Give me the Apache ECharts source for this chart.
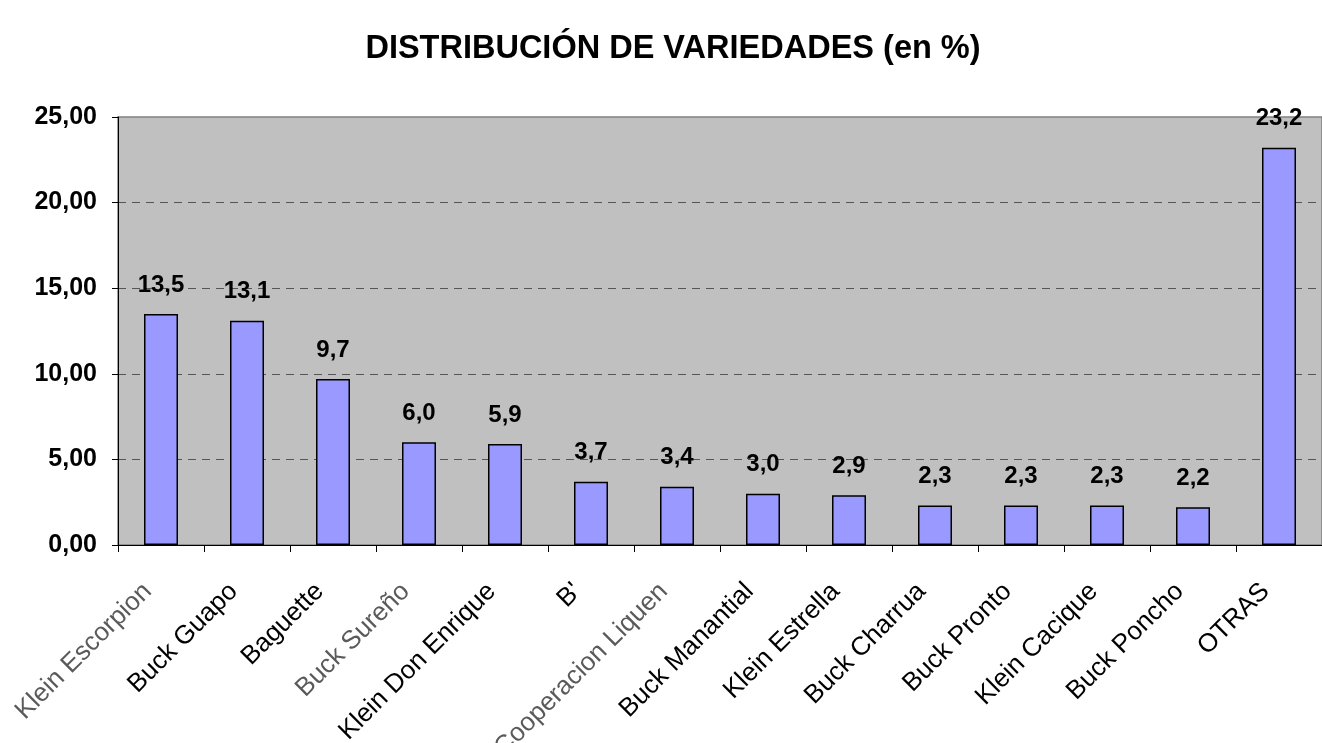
<!DOCTYPE html>
<html>
<head>
<meta charset="utf-8">
<script src="https://cdn.jsdelivr.net/npm/echarts@6/dist/echarts.min.js"></script>
<style>
  html, body { margin: 0; padding: 0; background: #fff; }
  #chart { width: 1322px; height: 743px; }
</style>
</head>
<body>
<div id="chart"></div>
<script>
// 品种名称
const categories = ['Klein Escorpion', 'Buck Guapo', 'Baguette', 'Buck Sureño', 'Klein Don Enrique', "B'",
  'Cooperacion Liquen', 'Buck Manantial', 'Klein Estrella', 'Buck Charrua', 'Buck Pronto',
  'Klein Cacique', 'Buck Poncho', 'OTRAS'];
// 百分比
const values = [13.5, 13.1, 9.7, 6.0, 5.9, 3.7, 3.4, 3.0, 2.9, 2.3, 2.3, 2.3, 2.2, 23.2];
// 渲染发灰的标签
const greyLabels = ['Klein Escorpion', 'Buck Sureño', 'Cooperacion Liquen'];

const font = '"Liberation Sans", Arial, sans-serif';
const myChart = echarts.init(document.getElementById('chart'));

myChart.setOption({
  animation: false,
  title: {
    text: 'DISTRIBUCIÓN DE VARIEDADES (en %)',
    left: 668,
    textAlign: 'center',
    top: 28,
    textStyle: { fontFamily: font, fontSize: 32.5, fontWeight: 'bold', color: '#000' }
  },
  grid: {
    left: 118,
    right: 0,
    top: 117,
    bottom: 198,
    containLabel: false,
    outerBoundsMode: 'none',
    show: true,
    backgroundColor: '#C0C0C0',
    borderColor: '#808080',
    borderWidth: 1.5
  },
  xAxis: {
    type: 'category',
    data: categories.map(c => greyLabels.indexOf(c) > -1
      ? { value: c, textStyle: { color: '#5a5a5a' } }
      : c),
    axisLine: { lineStyle: { color: '#000', width: 1 } },
    axisTick: { show: true, length: 7, lineStyle: { color: '#000' } },
    axisLabel: {
      rotate: 45,
      interval: 0,
      margin: 29,
      padding: [0, 19, 0, 0],
      fontFamily: font,
      fontSize: 26,
      color: '#000'
    }
  },
  yAxis: {
    type: 'value',
    min: 0,
    max: 25,
    interval: 5,
    axisLine: { show: true, lineStyle: { color: '#000' } },
    axisTick: { show: true, length: 6, lineStyle: { color: '#000' } },
    axisLabel: {
      margin: 21,
      fontFamily: font,
      fontSize: 25,
      fontWeight: 'bold',
      color: '#000',
      formatter: v => v.toFixed(2).replace('.', ',')
    },
    splitLine: {
      showMaxLine: false,
      lineStyle: { color: '#555', type: [8, 6], width: 1 }
    }
  },
  series: [{
    type: 'bar',
    data: values,
    barWidth: 34,
    itemStyle: { color: '#9999FF', borderColor: '#000', borderWidth: 1.5 },
    label: {
      show: true,
      position: 'top',
      distance: 17,
      fontFamily: font,
      fontSize: 24,
      fontWeight: 'bold',
      color: '#000',
      formatter: p => p.value.toFixed(1).replace('.', ',')
    }
  }]
});
</script>
</body>
</html>
